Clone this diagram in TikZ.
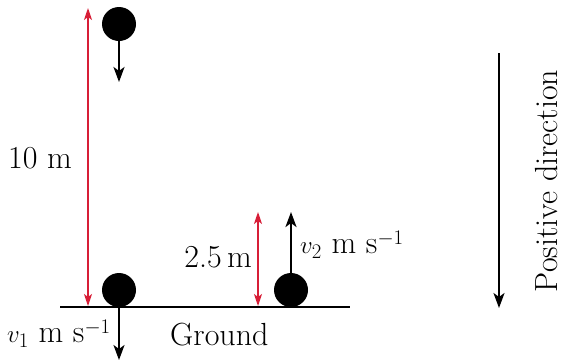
\documentclass[tikz,border=0pt]{standalone}
\usetikzlibrary{arrows.meta}
\definecolor{dimred}{RGB}{215,30,55}
\tikzset{
  ball/.style={circle,fill=black,minimum size=34pt,inner sep=0pt},
  blkarrow/.style={line width=2.4pt,-{Stealth[length=15pt,width=11pt,inset=4pt]}},
  redarrow/.style={dimred,line width=1.3pt,{Stealth[length=12pt,width=8pt,inset=3pt]}-{Stealth[length=12pt,width=8pt,inset=3pt]}},
  lbl/.style={font=\fontsize{32}{38}\selectfont,inner sep=0pt}
}
\begin{document}
\begin{tikzpicture}[x=1pt,y=-1pt]
\useasboundingbox (0,0) rectangle (562,360);
% ground
\coordinate (gl) at (60,307);
\coordinate (gr) at (350,307);
\draw[line width=2pt] (gl) -- (gr);
% balls
\node[ball] (b1) at (119,24) {};
\node[ball] (b2) at (119,290) {};
\node[ball] (b3) at (291,290) {};
% velocity arrows
\coordinate (t1) at (119,82);
\draw[blkarrow] (b1.south) -- (t1);
\coordinate (g1) at (119,307);
\coordinate (t2) at (119,360);
\draw[blkarrow] (g1) -- (t2);
\coordinate (t3) at (291,212);
\draw[blkarrow] (b3.north) -- (t3);
% red dimension arrows
\coordinate (r1t) at (88,8);
\coordinate (r1b) at (88,306);
\draw[redarrow] (r1t) -- (r1b);
\coordinate (r2t) at (258,212);
\coordinate (r2b) at (258,306);
\draw[redarrow] (r2t) -- (r2b);
% labels
\node[lbl,anchor=west] (l10) at (8,158) {10 m};
\node[lbl,anchor=east] (l25) at (252,257) {2.5\,m};
\node[lbl,anchor=west] (lv2) at (300,245) {$v_2$ m s$^{-1}$};
\node[lbl,anchor=west] (lv1) at (7,334) {$v_1$ m s$^{-1}$};
\node[lbl,anchor=west] (lg) at (170,335) {Ground};
% positive direction
\coordinate (p1) at (499,53);
\coordinate (p2) at (499,308);
\draw[blkarrow] (p1) -- (p2);
\node[lbl,rotate=90,anchor=base] (lp) at (557,181) {Positive direction};
\end{tikzpicture}
\end{document}
